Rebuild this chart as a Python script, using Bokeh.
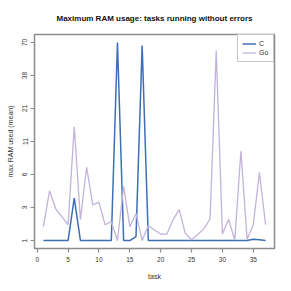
import numpy as np
from bokeh.plotting import figure
from bokeh.models import FixedTicker, Range1d, Legend, LegendItem
from bokeh.embed import file_html
from bokeh.resources import INLINE

task = list(range(1, 38))
c_ram = [1, 1, 1, 1, 1, 3.3, 1, 1, 1, 1, 1, 1, 70, 1, 1, 1.15, 66, 1,
         1, 1, 1, 1, 1, 1, 1, 1, 1, 1, 1, 1, 1, 1, 1, 1, 1.05, 1.03, 1]
go_ram = [1.57, 3.9, 2.53, 2.08, 1.66, 14.5, 1.92, 6.5, 2.8, 3.0, 1.66, 1.8,
          1.0, 4.3, 1.57, 2.26, 1.0, 1.62, 1.42, 1.25, 1.25, 1.9, 2.49, 1.27,
          1.03, 1.23, 1.47, 1.95, 60.2, 1.25, 1.93, 1.02, 9.05, 1.05, 1.66,
          5.8, 1.66]
y_tick_labels = ["1", "3", "6", "11", "21", "38", "70"]
x_ticks = [0, 5, 10, 15, 20, 25, 30, 35]

C_COLOR = "#3d6fb6"
GO_COLOR = "#c2b3da"
FONT = "Liberation Sans"

# log(x+1) transform of the y values
c_t = np.log(np.array(c_ram) + 1)
go_t = np.log(np.array(go_ram) + 1)
lo = min(c_t.min(), go_t.min())
hi = max(c_t.max(), go_t.max())
y_ticks = np.linspace(lo, hi, len(y_tick_labels))
ypad = (hi - lo) * 0.04
xpad = (max(task) - min(task)) * 0.04

p = figure(frame_width=240, frame_height=214, output_backend="svg",
           toolbar_location=None,
           x_range=Range1d(min(task) - xpad, max(task) + xpad),
           y_range=Range1d(lo - ypad, hi + ypad),
           min_border_left=34, min_border_right=9, min_border_top=34,
           min_border_bottom=36)

p.title.text = "Maximum RAM usage: tasks running without errors"
p.title.align = "center"
p.title.text_font = FONT
p.title.text_font_size = "8px"
p.title.text_font_style = "bold"
p.title.text_color = "#111111"
p.title.standoff = 23

r_c = p.line(task, c_t, line_color=C_COLOR, line_width=1.5)
r_go = p.line(task, go_t, line_color=GO_COLOR, line_width=1.3)

p.xgrid.grid_line_color = None
p.ygrid.grid_line_color = None
p.outline_line_color = "#8c8c8c"
p.outline_line_width = 1.5
p.background_fill_color = "white"
p.border_fill_color = "white"

p.xaxis.ticker = FixedTicker(ticks=x_ticks)
p.yaxis.ticker = FixedTicker(ticks=list(y_ticks))
p.yaxis.major_label_overrides = {float(t): lab for t, lab in zip(y_ticks, y_tick_labels)}
p.yaxis.major_label_orientation = "vertical"

for ax in (p.xaxis[0], p.yaxis[0]):
    ax.axis_line_color = None
    ax.major_tick_line_color = "#8c8c8c"
    ax.major_tick_line_width = 1.2
    ax.major_tick_out = 4
    ax.major_tick_in = 0
    ax.minor_tick_line_color = None
    ax.major_label_text_font = FONT
    ax.major_label_text_font_size = "6.5px"
    ax.major_label_text_color = "#333333"
    ax.axis_label_text_font = FONT
    ax.axis_label_text_font_size = "7px"
    ax.axis_label_text_font_style = "normal"
    ax.axis_label_text_color = "#333333"

p.xaxis.axis_label = "task"
p.xaxis.major_label_standoff = 4
p.xaxis.axis_label_standoff = 8
p.yaxis.axis_label = "max RAM used (mean)"
p.yaxis.major_label_standoff = 3
p.yaxis.axis_label_standoff = 6

legend = Legend(items=[LegendItem(label="C", renderers=[r_c]),
                       LegendItem(label="Go", renderers=[r_go])],
                location="top_right")
legend.margin = 0
legend.padding = 4
legend.spacing = 0
legend.glyph_width = 14
legend.glyph_height = 9
legend.label_height = 9
legend.label_width = 10
legend.label_standoff = 3
legend.label_text_font = FONT
legend.label_text_font_size = "7px"
legend.label_text_color = "#333333"
legend.border_line_color = "#8c8c8c"
legend.border_line_width = 1.2
legend.background_fill_color = "white"
legend.background_fill_alpha = 1.0
p.add_layout(legend)

open("out.html", "w").write(file_html(p, INLINE))
